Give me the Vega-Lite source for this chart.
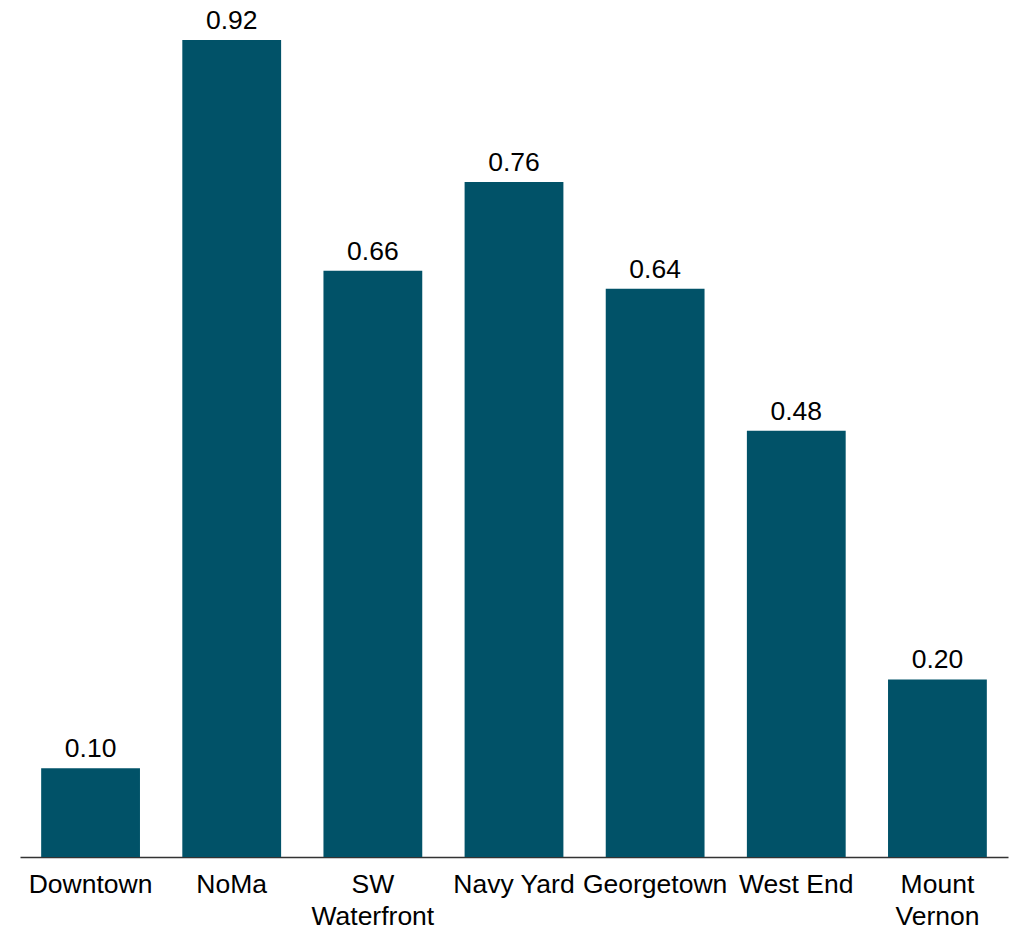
{
  "$schema": "https://vega.github.io/schema/vega-lite/v6.json",
  "width": 988,
  "height": 857,
  "padding": {"left": 20, "top": 0, "right": 7, "bottom": 0},
  "background": "white",
  "config": {
    "view": {"stroke": null},
    "font": "Liberation Sans"
  },
  "data": {
    "values": [
      {"area": "Downtown", "value": 0.10},
      {"area": "NoMa", "value": 0.92},
      {"area": "SW Waterfront", "value": 0.66},
      {"area": "Navy Yard", "value": 0.76},
      {"area": "Georgetown", "value": 0.64},
      {"area": "West End", "value": 0.48},
      {"area": "Mount Vernon", "value": 0.20}
    ]
  },
  "encoding": {
    "x": {
      "field": "area",
      "type": "nominal",
      "sort": null,
      "scale": {"paddingInner": 0.3, "paddingOuter": 0.15},
      "axis": {
        "title": null,
        "labelAngle": 0,
        "labelFont": "Liberation Sans",
        "labelFontSize": 26.5,
        "labelColor": "#000000",
        "labelPadding": 14,
        "labelLineHeight": 32,
        "labelBaseline": "top",
        "labelOverlap": false,
        "labelBound": false,
        "ticks": false,
        "domainColor": "#333333",
        "domainWidth": 1.5,
        "labelExpr": "datum.label == 'SW Waterfront' ? ['SW', 'Waterfront'] : datum.label == 'Mount Vernon' ? ['Mount', 'Vernon'] : datum.label"
      }
    },
    "y": {
      "field": "value",
      "type": "quantitative",
      "scale": {"domain": [0, 0.965], "nice": false, "zero": true},
      "axis": null
    }
  },
  "layer": [
    {"mark": {"type": "bar", "color": "#015268"}},
    {
      "mark": {
        "type": "text",
        "baseline": "alphabetic",
        "dy": -11,
        "fontSize": 26.5,
        "font": "Liberation Sans",
        "color": "#000000"
      },
      "encoding": {
        "text": {"field": "value", "type": "quantitative", "format": ".2f"}
      }
    }
  ]
}
